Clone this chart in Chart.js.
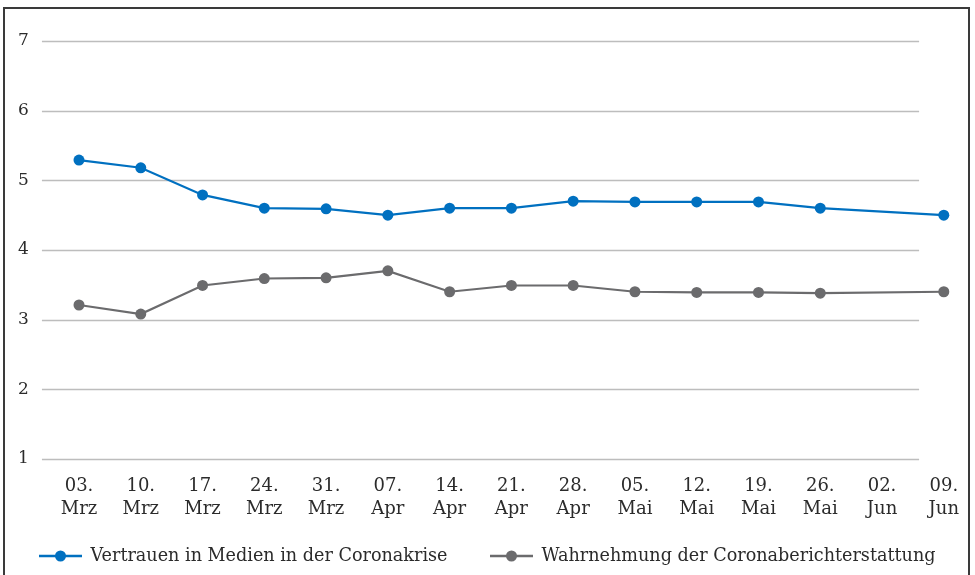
<!DOCTYPE html>
<html>
<head>
<meta charset="utf-8">
<script src="https://cdn.jsdelivr.net/npm/chart.js@4"></script>
<style>
  html, body { margin: 0; padding: 0; background: #fff; }
  #wrap { position: relative; width: 975px; height: 575px; overflow: hidden; }
  #frame { position: absolute; left: 3px; top: 7px; width: 967px; height: 620px; border: 2px solid #3a3a3a; box-sizing: border-box; }
  canvas#chart { position: absolute; left: 0; top: 0; }
  #legend { position: absolute; left: 0; top: 543px; width: 975px; display: flex; justify-content: center; gap: 43px;
            font-family: 'DejaVu Serif'; font-size: 17.6px; color: #2b2b2b; line-height: 24px; }
  #legend .item { display: flex; align-items: center; white-space: nowrap; }
  #legend canvas { margin-right: 8px; margin-top: 2px; }
</style>
</head>
<body>
<div id="wrap">
  <div id="frame"></div>
  <canvas id="chart" width="975" height="575"></canvas>
  <div id="legend"></div>
</div>
<script>
/* =====================
   Daten
===================== */
const weeks = [
    ['03.', 'Mrz'], ['10.', 'Mrz'], ['17.', 'Mrz'], ['24.', 'Mrz'], ['31.', 'Mrz'],
    ['07.', 'Apr'], ['14.', 'Apr'], ['21.', 'Apr'], ['28.', 'Apr'],
    ['05.', 'Mai'], ['12.', 'Mai'], ['19.', 'Mai'], ['26.', 'Mai'],
    ['02.', 'Jun'], ['09.', 'Jun']
];
const vertrauen = [5.29, 5.18, 4.79, 4.60, 4.59, 4.50, 4.60, 4.60, 4.70, 4.69, 4.69, 4.69, 4.60, null, 4.50];
const wahrnehmung = [3.21, 3.08, 3.49, 3.59, 3.60, 3.70, 3.40, 3.49, 3.49, 3.40, 3.39, 3.39, 3.38, null, 3.40];
const yTicks = [1, 2, 3, 4, 5, 6, 7];

const BLUE = '#0070c0';
const GREY = '#6b6b6d';
const FONT = 'DejaVu Serif';

/* =====================
   Legenden-Symbol (Linie + Punkt)
===================== */
function legendSymbol(color) {
    const c = document.createElement('canvas');
    c.width = 43;
    c.height = 14;
    const g = c.getContext('2d');
    g.strokeStyle = color;
    g.lineWidth = 2.5;
    g.beginPath();
    g.moveTo(0, 7);
    g.lineTo(43, 7);
    g.stroke();
    g.fillStyle = color;
    g.beginPath();
    g.arc(21.5, 7, 5.5, 0, Math.PI * 2);
    g.fill();
    return c;
}

// Gitterlinien etwas kuerzer als die Datenflaeche (wie im Original)
const shortGrid = {
    id: 'shortGrid',
    beforeDatasetsDraw(chart) {
        const x = chart.scales.x;
        const y = chart.scales.y;
        const step = x.getPixelForValue(1) - x.getPixelForValue(0);
        const start = x.getPixelForValue(0) - 0.6 * step;
        const end = x.getPixelForValue(weeks.length - 1) - 0.4 * step;
        const ctx = chart.ctx;
        ctx.save();
        ctx.strokeStyle = '#bdbdbd';
        ctx.lineWidth = 1.5;
        y.ticks.forEach(t => {
            const py = Math.round(y.getPixelForValue(t.value)) + 0.5;
            ctx.beginPath();
            ctx.moveTo(start, py);
            ctx.lineTo(end, py);
            ctx.stroke();
        });
        ctx.restore();
    }
};

const chart = new Chart(document.getElementById('chart'), {
    type: 'line',
    data: {
        labels: weeks,
        datasets: [{
            label: 'Vertrauen in Medien in der Coronakrise',
            data: vertrauen,
            borderColor: BLUE,
            backgroundColor: BLUE,
            borderWidth: 2.2,
            pointRadius: 5.5,
            pointHoverRadius: 5.5,
            pointBorderWidth: 0,
            tension: 0,
            spanGaps: true,
            clip: false
        }, {
            label: 'Wahrnehmung der Coronaberichterstattung',
            data: wahrnehmung,
            borderColor: GREY,
            backgroundColor: GREY,
            borderWidth: 2.2,
            pointRadius: 5.5,
            pointHoverRadius: 5.5,
            pointBorderWidth: 0,
            tension: 0,
            spanGaps: true,
            clip: false
        }]
    },
    options: {
        responsive: false,
        animation: false,
        layout: { padding: { left: 18, right: 30, top: 41, bottom: 38 } },
        scales: {
            x: {
                offset: false,
                grid: { display: false, drawTicks: false },
                border: { display: false },
                ticks: {
                    color: '#2b2b2b',
                    font: { family: FONT, size: 18, lineHeight: 1.28 },
                    padding: 16,
                    maxRotation: 0,
                    autoSkip: false
                }
            },
            y: {
                min: 1,
                max: 7,
                afterBuildTicks(scale) {
                    scale.ticks = yTicks.map(v => ({ value: v }));
                },
                afterFit(scale) {
                    scale.width = 61;
                },
                grid: { display: false, drawTicks: false },
                border: { display: false },
                ticks: {
                    color: '#2b2b2b',
                    font: { family: FONT, size: 17 },
                    crossAlign: 'far',
                    padding: 2
                }
            }
        },
        plugins: {
            legend: { display: false },
            tooltip: { enabled: false }
        }
    },
    plugins: [shortGrid]
});

/* =====================
   HTML-Legende aus den Datensaetzen
===================== */
const legendEl = document.getElementById('legend');
chart.data.datasets.forEach(ds => {
    const item = document.createElement('span');
    item.className = 'item';
    item.appendChild(legendSymbol(ds.borderColor));
    item.appendChild(document.createTextNode(ds.label));
    legendEl.appendChild(item);
});
</script>
</body>
</html>
